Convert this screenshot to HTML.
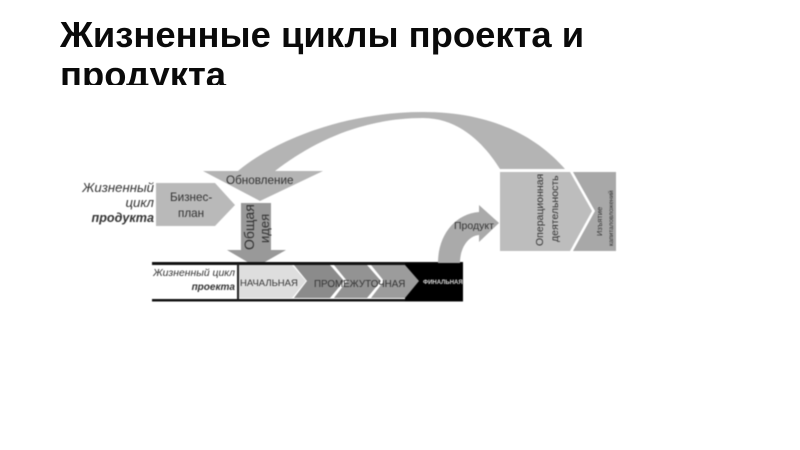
<!DOCTYPE html>
<html lang="ru"><head><meta charset="utf-8"><style>
html,body{margin:0;padding:0;background:#fff}
body{width:800px;height:450px;overflow:hidden;position:relative}
#t{position:absolute;left:60px;top:15px;width:560px;height:70px;overflow:hidden;font:bold 36.4px/40px "Liberation Sans",sans-serif;color:#0a0a0a}
svg{position:absolute;left:0;top:0;filter:blur(.45px)}
text{font-family:"Liberation Sans",sans-serif;fill:#333}
</style></head><body>
<div id="t">Жизненные циклы проекта и продукта</div>
<svg width="800" height="450" viewBox="0 0 800 450">
<path d="M238 171C275 140 345 112 423 112C490 112 535 135 565 169L500 169C485 145 460 118 423 118C365 118 315 140 275 171Z" fill="#b4b4b4"/>
<path d="M203 171H323L260 201Z" fill="#b4b4b4"/>
<path d="M156 183H215L235 205L215 226H156Z" fill="#b9b9b9"/>
<path d="M241 203H271V250H286L256 267L227 250H241Z" fill="#999"/>
<rect x="152" y="262" width="311" height="3" fill="#111"/>
<rect x="152" y="299" width="311" height="2.5" fill="#111"/>
<rect x="237" y="264" width="2" height="36" fill="#222"/>
<rect x="405" y="263" width="58" height="38" fill="#000"/>
<path d="M239 265H292L306 281L292 298H239Z" fill="#dedede"/>
<path d="M294 265H330L344 281L330 298H294L307 281Z" fill="#8b8b8b"/>
<path d="M334 265H367L381 281L367 298H334L347 281Z" fill="#939393"/>
<path d="M371 265H405L419 281L405 298H371L384 281Z" fill="#9c9c9c"/>
<path d="M438 263C438 235 455 214 479 212V205L499 223L479 242V235C468 236 460 248 460 263Z" fill="#aaa"/>
<path d="M500 172H570L592 211L570 251H500Z" fill="#bdbdbd"/>
<path d="M573 172H616V251H573L595 211Z" fill="#a8a8a8"/>
<g font-size="11.7">
<text x="154" y="192" text-anchor="end" font-style="italic" font-size="13.2" fill="#444">Жизненный</text>
<text x="154" y="207" text-anchor="end" font-style="italic" font-size="13.2" fill="#444">цикл</text>
<text x="154" y="222" text-anchor="end" font-style="italic" font-weight="bold" font-size="12.6" fill="#111">продукта</text>
<text x="170" y="201">Бизнес-</text>
<text x="178" y="217">план</text>
<text x="226" y="184">Обновление</text>
<text x="454" y="229" font-size="10.5">Продукт</text>
</g>
<text transform="translate(254,250) rotate(-90)" font-size="14">Общая</text>
<text transform="translate(269,243) rotate(-90)" font-size="13">идея</text>
<g font-size="9.5" fill="#333">
<text x="235" y="276" text-anchor="end" font-style="italic" font-size="10.4">Жизненный цикл</text>
<text x="235" y="290" text-anchor="end" font-style="italic" font-weight="bold" font-size="10" fill="#111">проекта</text>
<text x="240" y="286">НАЧАЛЬНАЯ</text>
<text x="314" y="287" font-size="9.8">ПРОМЕЖУТОЧНАЯ</text>
<text x="423" y="284" font-size="6" font-weight="bold" style="fill:#ddd">ФИНАЛЬНАЯ</text>
</g>
<text transform="translate(543,246) rotate(-90)" font-size="10.5">Операционная</text>
<text transform="translate(558,242) rotate(-90)" font-size="10.5">деятельность</text>
<text transform="translate(602,236) rotate(-90)" font-size="7.5">Изъятие</text>
<text transform="translate(613,246) rotate(-90)" font-size="6.3">капиталовложений</text>
</svg>
</body></html>
